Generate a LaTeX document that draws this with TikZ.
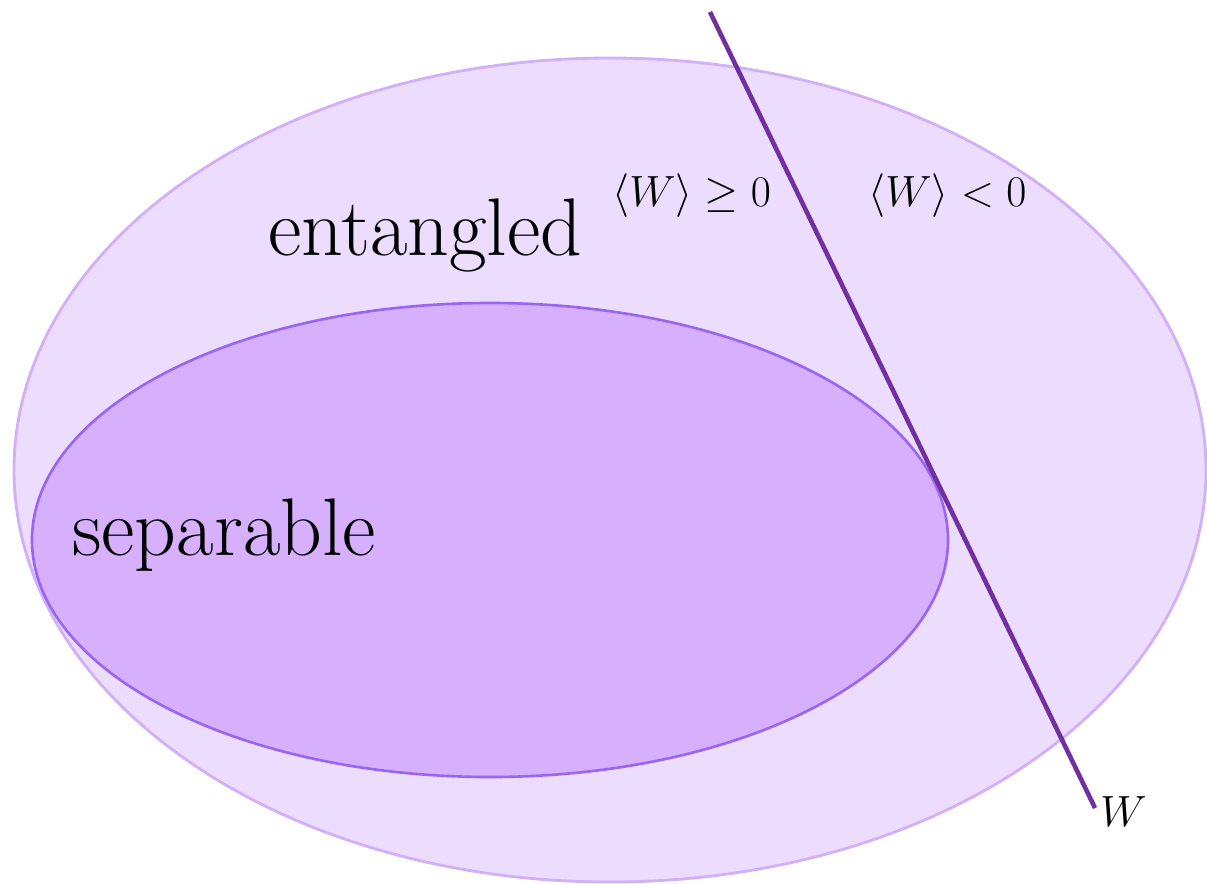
\documentclass[tikz,border=0pt]{standalone}
\usepackage{amssymb}
\begin{document}
\begin{tikzpicture}[x=0.02cm,y=-0.02cm,
  outerset/.style={fill=outerfill,draw=outerline,line width=1.6pt},
  innerset/.style={fill=innerfill,draw=innerline,line width=1.5pt},
  bigtxt/.style={anchor=base west,inner sep=0pt,font=\fontsize{46.5}{52}\selectfont},
  mathtxt/.style={anchor=base west,inner sep=0pt,font=\fontsize{23}{27}\selectfont},
  witness/.style={draw=witnesscol,line width=2.6pt}]
\definecolor{outerfill}{HTML}{ECDDFE}
\definecolor{outerline}{HTML}{D2AFF9}
\definecolor{innerfill}{HTML}{D6AFFD}
\definecolor{innerline}{HTML}{9966F2}
\definecolor{witnesscol}{HTML}{7030A0}
\useasboundingbox (0,0) rectangle (1207,883);
\path[outerset] (610,470) ellipse [x radius=596, y radius=412];
\path[innerset] (490,540) ellipse [x radius=458, y radius=237];
\coordinate (wtop) at (710,12);
\coordinate (wbot) at (1095,808);
\draw[witness] (wtop) -- (wbot);
\node[bigtxt] (ent) at (268,255) {entangled};
\node[bigtxt] (sep) at (72,555) {separable};
\node[mathtxt] (pos) at (612,206) {$\langle W\rangle \geq 0$};
\node[mathtxt] (neg) at (868,206) {$\langle W\rangle < 0$};
\node[mathtxt] (wlab) at (1100,826) {$W$};
\end{tikzpicture}
\end{document}
